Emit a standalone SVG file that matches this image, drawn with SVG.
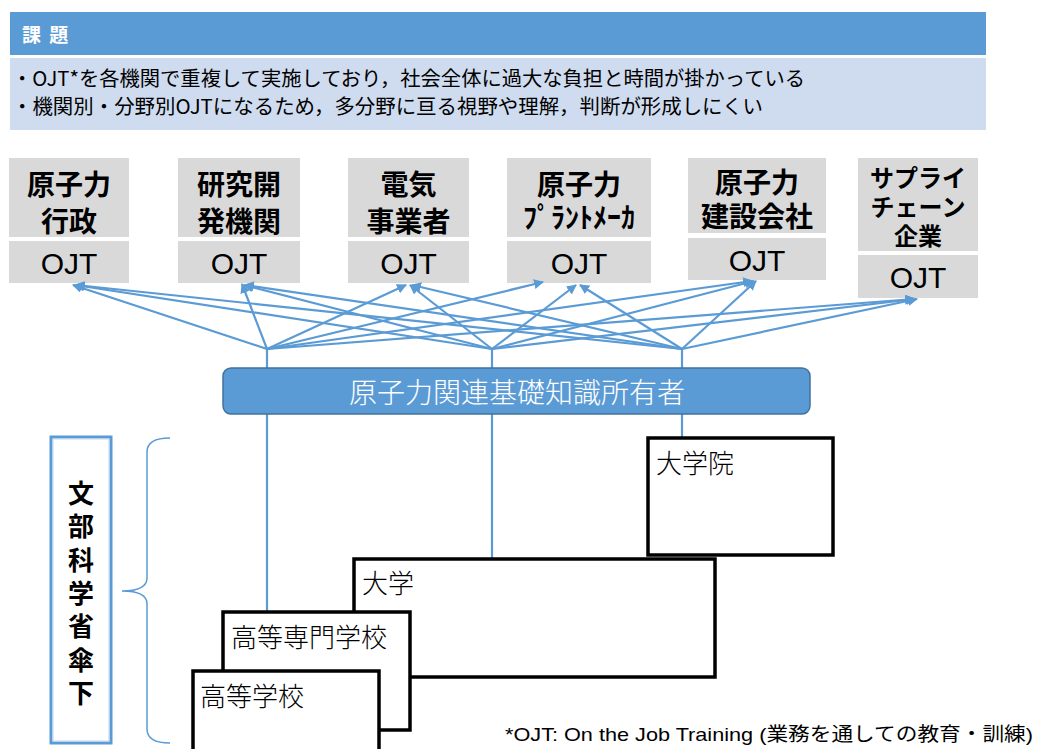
<svg xmlns="http://www.w3.org/2000/svg" width="1043" height="749" viewBox="0 0 1043 749">
<style>
.jp{font-family:"Noto Sans CJK JP","Noto Sans CJK SC",sans-serif}
.lbl{font-family:"Noto Sans CJK JP",sans-serif;font-size:28px;font-weight:700;fill:#000;text-anchor:middle}
.lbl6{font-family:"Noto Sans CJK JP",sans-serif;font-size:24px;font-weight:700;fill:#000;text-anchor:middle}
.ojt{font-family:"Liberation Sans","Noto Sans CJK JP",sans-serif;font-size:30px;fill:#000;text-anchor:middle}
.gray{fill:#D9D9D9}
.conn{stroke:#5B9BD5;stroke-width:2.2;fill:none}
.school{fill:#fff;stroke:#000;stroke-width:3.5}
.stxt{font-family:"Noto Sans CJK JP",sans-serif;font-size:26px;font-weight:300;fill:#000}
</style>
<defs>
<marker id="ah" viewBox="0 0 10 10" refX="9" refY="5" markerWidth="10" markerHeight="10" markerUnits="userSpaceOnUse" orient="auto">
<path d="M0,0 L10,5 L0,10 z" fill="#5B9BD5"/>
</marker>
</defs>
<rect width="1043" height="749" fill="#fff"/>

<g id="issue">
<rect x="10" y="12" width="976" height="43" fill="#5B9BD5"/>
<text x="22" y="42" class="jp" font-size="19" font-weight="700" fill="#fff" letter-spacing="2">課 題</text>
<rect x="10" y="58" width="976" height="72" fill="#CFDBEE"/>
<text x="12" y="86" class="jp" font-size="20" fill="#000" textLength="793" lengthAdjust="spacingAndGlyphs">・OJT*を各機関で重複して実施しており，社会全体に過大な負担と時間が掛かっている</text>
<text x="12" y="114" class="jp" font-size="20" fill="#000" textLength="751" lengthAdjust="spacingAndGlyphs">・機関別・分野別OJTになるため，多分野に亘る視野や理解，判断が形成しにくい</text>
</g>

<g id="node1">
<rect class="gray" x="9" y="158" width="120" height="79"/>
<rect class="gray" x="9" y="241" width="120" height="42"/>
<text class="lbl"><tspan x="69" y="195">原子力</tspan><tspan x="69" y="232">行政</tspan></text>
<text class="ojt" x="69" y="274">OJT</text>
</g>
<g id="node2">
<rect class="gray" x="178" y="158" width="122" height="79"/>
<rect class="gray" x="178" y="241" width="122" height="42"/>
<text class="lbl"><tspan x="239" y="195">研究開</tspan><tspan x="239" y="232">発機関</tspan></text>
<text class="ojt" x="239" y="274">OJT</text>
</g>
<g id="node3">
<rect class="gray" x="348" y="158" width="121" height="79"/>
<rect class="gray" x="348" y="241" width="121" height="42"/>
<text class="lbl"><tspan x="408.5" y="195">電気</tspan><tspan x="408.5" y="232">事業者</tspan></text>
<text class="ojt" x="408.5" y="274">OJT</text>
</g>
<g id="node4">
<rect class="gray" x="507" y="158" width="144" height="79"/>
<rect class="gray" x="507" y="241" width="144" height="42"/>
<text class="lbl"><tspan x="579" y="195">原子力</tspan><tspan x="579" y="228">ﾌﾟﾗﾝﾄﾒｰｶ</tspan></text>
<text class="ojt" x="579" y="274">OJT</text>
</g>
<g id="node5">
<rect class="gray" x="688" y="158" width="138" height="75"/>
<rect class="gray" x="688" y="238" width="138" height="42"/>
<text class="lbl"><tspan x="757" y="193">原子力</tspan><tspan x="757" y="227">建設会社</tspan></text>
<text class="ojt" x="757" y="271">OJT</text>
</g>
<g id="node6">
<rect class="gray" x="858" y="158" width="120" height="93"/>
<rect class="gray" x="858" y="255" width="120" height="43"/>
<text class="lbl6"><tspan x="918" y="187">サプライ</tspan><tspan x="918" y="216">チェーン</tspan><tspan x="918" y="245">企業</tspan></text>
<text class="ojt" x="918" y="288">OJT</text>
</g>

<g id="connectors">
<path class="conn" marker-end="url(#ah)" d="M267,349 L73,285"/>
<path class="conn" marker-end="url(#ah)" d="M267,349 L242,284"/>
<path class="conn" marker-end="url(#ah)" d="M267,349 L406,285"/>
<path class="conn" marker-end="url(#ah)" d="M267,349 L543,282"/>
<path class="conn" marker-end="url(#ah)" d="M267,349 L752,281"/>
<path class="conn" marker-end="url(#ah)" d="M267,349 L914,299"/>
<path class="conn" marker-end="url(#ah)" d="M492,349 L75,285"/>
<path class="conn" marker-end="url(#ah)" d="M492,349 L244,285"/>
<path class="conn" marker-end="url(#ah)" d="M492,349 L410,285"/>
<path class="conn" marker-end="url(#ah)" d="M492,349 L576,285"/>
<path class="conn" marker-end="url(#ah)" d="M492,349 L754,281"/>
<path class="conn" marker-end="url(#ah)" d="M492,349 L915,299"/>
<path class="conn" marker-end="url(#ah)" d="M682,349 L76,285"/>
<path class="conn" marker-end="url(#ah)" d="M682,349 L245,285"/>
<path class="conn" marker-end="url(#ah)" d="M682,349 L412,285"/>
<path class="conn" marker-end="url(#ah)" d="M682,349 L580,285"/>
<path class="conn" marker-end="url(#ah)" d="M682,349 L756,281"/>
<path class="conn" marker-end="url(#ah)" d="M682,349 L917,299"/>
<path class="conn" d="M267,349 V368 M492,349 V368 M682,349 V368"/>
<path class="conn" d="M267,414 V611 M492,414 V558 M682,414 V437"/>
</g>

<g id="holders">
<rect x="223" y="368" width="587" height="46" rx="8" fill="#5B9BD5" stroke="#41719C" stroke-width="1.5"/>
<text x="517" y="403" class="jp" font-size="28" font-weight="300" fill="#fff" text-anchor="middle">原子力関連基礎知識所有者</text>
</g>

<g id="graduate">
<rect class="school" x="648" y="438" width="185" height="117"/>
<text class="stxt" x="656" y="473">大学院</text>
</g>
<g id="university">
<rect class="school" x="354" y="559" width="361" height="118"/>
<text class="stxt" x="362" y="593">大学</text>
</g>
<g id="kosen">
<rect class="school" x="223" y="612" width="187" height="118"/>
<text class="stxt" x="231" y="647">高等専門学校</text>
</g>
<g id="highschool">
<rect class="school" x="193" y="671" width="186" height="90"/>
<text class="stxt" x="200" y="706">高等学校</text>
</g>

<g id="mext">
<rect x="51" y="437" width="60" height="306" fill="#fff" stroke="#5B9BD5" stroke-width="3"/>
<rect x="53" y="439" width="56" height="302" fill="none" stroke="#BDD7EE" stroke-width="1"/>
<text class="jp" font-size="26" font-weight="700" fill="#000" text-anchor="middle"><tspan x="81" y="503">文</tspan><tspan x="81" y="536">部</tspan><tspan x="81" y="570">科</tspan><tspan x="81" y="603">学</tspan><tspan x="81" y="636">省</tspan><tspan x="81" y="670">傘</tspan><tspan x="81" y="703">下</tspan></text>
<path d="M170,438 Q147,438 147,452 L147,578 Q147,591 122,591 Q147,591 147,604 L147,729 Q147,743 170,743" fill="none" stroke="#5B9BD5" stroke-width="1.5"/>
</g>

<text x="505" y="741" font-family="Liberation Sans,'Noto Sans CJK JP',sans-serif" font-size="19" fill="#000" textLength="528" lengthAdjust="spacingAndGlyphs">*OJT: On the Job Training (業務を通しての教育・訓練)</text>
</svg>
